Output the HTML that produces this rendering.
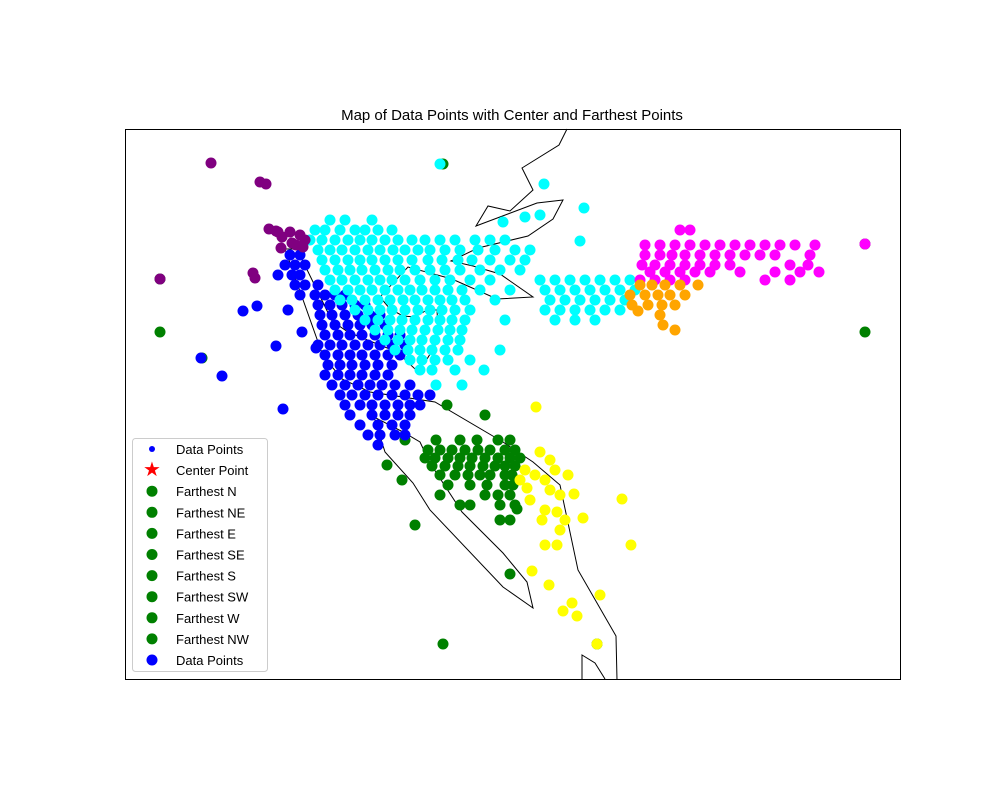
<!DOCTYPE html>
<html><head><meta charset="utf-8"><style>
body{margin:0;background:#fff;}
svg{display:block;font-family:"Liberation Sans",sans-serif;}
</style></head><body>
<svg id="chart" width="1000" height="800" viewBox="0 0 1000 800">
<rect x="0" y="0" width="1000" height="800" fill="#fff"/>
<text x="512" y="120" text-anchor="middle" font-size="15">Map of Data Points with Center and Farthest Points</text>
<g id="marks"></g>
<rect x="125.5" y="129.5" width="775" height="550" fill="none" stroke="#000" stroke-width="1"/>
<g id="legend"></g>
</svg>
<script>
const coastX=[617,616,578,560,533,503,435,370,342,323,285,297,332,348,397,415,427,435,438,437,427,415,403,390,380,408,452,497,533,500,473,451,478,528,553,563,537,476,488,510,533,522,559,567];
const coastY=[680,636,570,485,462,442,402,392,379,356,249,249,321,332,352,369,359,346,329,310,310,317,316,309,297,267,279,299,297,274,266,261,248,236,219,200,203,226,206,211,190,168,145,129];
const innerX=[374,403,420,430,462,503,527,533,503,430,413,385,374];
const innerY=[417,432,442,463,512,553,582,608,587,510,483,452,417];
const islandX=[582,582,595,605];
const islandY=[679,655,663,679];
const cyanRows=[[220,[330,345,372]],[230,[315,325,340,355,365,378,392]],[240,[310,322,335,348,360,372,385,398,412,425,440,455,475,490,505]],[250,[318,330,342,355,368,380,393,405,418,430,445,460,478,495,515,530]],[260,[322,335,348,360,372,385,398,412,428,442,458,472,490,510,525]],[270,[325,338,350,362,375,388,400,415,430,445,460,480,500,520]],[280,[330,342,355,368,380,392,405,420,435,450,470,490,540,555,570,585,600,615,630]],[290,[335,348,360,372,385,398,410,422,435,448,462,480,510,545,560,575,590,605,620,635]],[300,[340,352,365,378,390,403,415,428,440,452,465,495,550,565,580,595,610,625]],[310,[355,368,380,392,405,418,430,442,455,470,545,560,575,590,605,620]],[320,[365,378,390,402,415,428,440,452,465,505,555,575,595]],[330,[375,388,400,412,425,438,450,462]],[340,[385,398,410,422,435,448,460]],[350,[395,408,420,432,445,458,500]],[360,[410,422,435,448,470]],[370,[420,432,455,484]],[385,[436,462]],[164,[440]],[184,[544]],[215,[540]],[222,[503]],[241,[580]],[208,[584]],[217,[525]]];
const blueRows=[[255,[290,300]],[265,[285,295,305]],[275,[278,292,300]],[285,[295,305,318]],[295,[300,315,325,335,345]],[305,[318,330,342,355,365]],[315,[320,332,345,358,370,380]],[325,[322,335,348,360,372,385]],[335,[325,338,350,362,375,388,400]],[345,[318,330,342,355,368,380,392,405]],[355,[325,338,350,362,375,388,400]],[365,[328,340,352,365,378,392]],[375,[325,338,350,362,375,388]],[385,[332,345,358,370,382,395,410]],[395,[340,352,365,378,392,405,418,430]],[405,[345,360,372,385,398,410,420]],[415,[350,372,385,398,410]],[425,[360,378,392,405]],[435,[368,380,395,405]],[445,[378]],[311,[243]],[306,[257]],[346,[276]],[358,[201]],[376,[222]],[409,[283]],[310,[288]],[332,[302]],[348,[316]]];
const greenRows=[[405,[447]],[415,[485]],[440,[436,460,477,498,510]],[450,[428,440,452,465,478,490,505,515]],[458,[425,435,448,460,472,485,498,510,520]],[466,[432,445,458,470,483,495,505,515]],[475,[440,455,468,480,490,505,512]],[485,[448,470,487,505,513]],[495,[440,485,498,510]],[505,[470,500,515]],[520,[500,510]],[465,[387]],[480,[402]],[440,[405]],[525,[415]],[574,[510]],[505,[460]],[509,[517]]];
const yellowX=[536,540,550,525,535,545,555,568,550,560,574,530,545,557,565,583,542,560,545,557,622,631,532,549,572,563,577,600,597,527,520];
const yellowY=[407,452,460,470,475,480,470,475,490,495,494,500,510,512,520,518,520,530,545,545,499,545,571,585,603,611,616,595,644,488,480];
const magentaRows=[[230,[680,690]],[245,[645,660,675,690,705,720,735,750,765,780,795,815]],[255,[645,660,672,685,700,715,730,745,760,775,810]],[265,[642,655,670,685,700,715,730,790,808]],[272,[650,665,680,695,710,740,775,800,819]],[280,[640,655,670,685,765,790]],[244,[865]]];
const orangeRows=[[285,[640,652,665,680,698]],[295,[630,645,658,670,685]],[305,[632,648,662,675]],[315,[660]],[325,[663]],[330,[675]],[311,[638]]];
const purpleX=[211,260,266,269,276,282,290,300,305,292,281,253,255,160,303,278,296];
const purpleY=[163,182,184,229,231,237,232,235,240,243,248,273,278,279,247,232,245];
const farX=[443,865,865,597,443,160,160,202];
const farY=[164,244,332,644,644,332,279,358];
const legendLabels=["Data Points","Center Point","Farthest N","Farthest NE","Farthest E","Farthest SE","Farthest S","Farthest SW","Farthest W","Farthest NW","Data Points"];

const sx=v=>125+(v-125)*(775/775);
const sy=v=>129+(v-129)*(550/550);
const NS="http://www.w3.org/2000/svg";
const marks=document.getElementById('marks');
function path(xs,ys,name){
  const p=document.createElementNS(NS,'polyline');
  p.setAttribute('points',xs.map((x,i)=>sx(x)+','+sy(ys[i])).join(' '));
  p.setAttribute('fill','none');p.setAttribute('stroke','#000');p.setAttribute('stroke-width','1');
  
  
  marks.appendChild(p);
}
path(coastX,coastY,'coastline');
path(innerX,innerY,'coastline-inner');
path(islandX,islandY,'coastline-south');
function dot(x,y,color,name,r){
  const c=document.createElementNS(NS,'circle');
  c.setAttribute('cx',sx(x));c.setAttribute('cy',sy(y));c.setAttribute('r',r||5.5);c.setAttribute('fill',color);
  
  
  marks.appendChild(c);
}
function rows(rs,color,name){rs.forEach(([y,xs])=>xs.forEach(x=>dot(x,y,color,name)));}
function pairs(xs,ys,color,name){xs.forEach((x,i)=>dot(x,ys[i],color,name));}
pairs(farX,farY,'#008000','farthest-point');
rows(greenRows,'#008000','cluster-green-point');
pairs(yellowX,yellowY,'#ffff00','cluster-yellow-point');
rows(blueRows,'#0000ff','cluster-blue-point');
rows(cyanRows,'#00ffff','cluster-cyan-point');
rows(magentaRows,'#ff00ff','cluster-magenta-point');
rows(orangeRows,'#ffa500','cluster-orange-point');
pairs(purpleX,purpleY,'#800080','cluster-purple-point');

const lg=document.getElementById('legend');
const box=document.createElementNS(NS,'rect');
box.setAttribute('x',132.5);box.setAttribute('y',438.5);box.setAttribute('width',135);box.setAttribute('height',233);box.setAttribute('rx',3);
box.setAttribute('fill','#fff');box.setAttribute('fill-opacity','0.8');box.setAttribute('stroke','#ccc');


lg.appendChild(box);
legendLabels.forEach((lab,i)=>{
  const y=449+i*21.1;
  let m;
  if(i===1){
    m=document.createElementNS(NS,'text');
    m.setAttribute('x',152);m.setAttribute('y',y+6);m.setAttribute('text-anchor','middle');m.setAttribute('font-size','20');m.setAttribute('fill','#ff0000');
    m.textContent='★';
  }else{
    m=document.createElementNS(NS,'circle');
    m.setAttribute('cx',152);m.setAttribute('cy',y);
    m.setAttribute('r',i===0?3:5.5);
    m.setAttribute('fill',(i===0||i===10)?'#0000ff':'#008000');
  }
  
  
  lg.appendChild(m);
  const t=document.createElementNS(NS,'text');
  t.setAttribute('x',176);t.setAttribute('y',y+5);t.setAttribute('font-size','13');
  t.textContent=lab;
  
  
  lg.appendChild(t);
});
</script>
</body></html>
